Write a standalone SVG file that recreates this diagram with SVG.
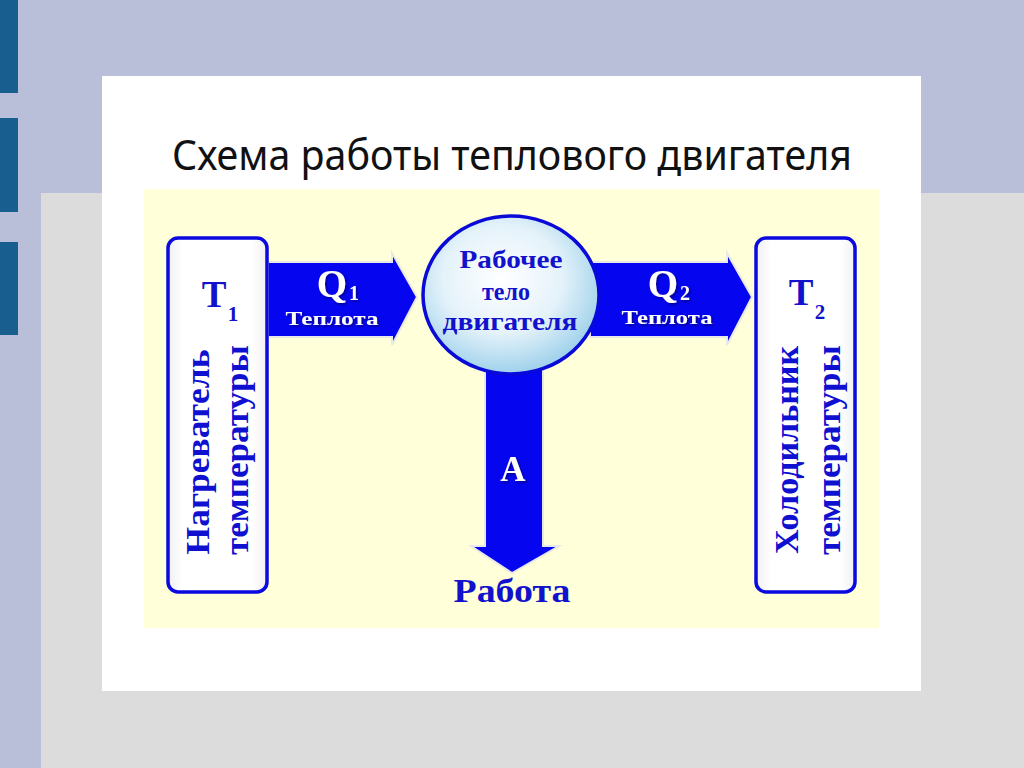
<svg xmlns="http://www.w3.org/2000/svg" width="1024" height="768" viewBox="0 0 1024 768">
<defs>
<radialGradient id="ball" cx="0.45" cy="0.4" r="0.62">
<stop offset="0" stop-color="#FFFFFF"/>
<stop offset="0.55" stop-color="#E4F2FA"/>
<stop offset="1" stop-color="#9ACFEA"/>
</radialGradient>
<linearGradient id="boxfill" x1="0" y1="0" x2="1" y2="0">
<stop offset="0" stop-color="#F0F0F4"/>
<stop offset="0.15" stop-color="#FFFFFF"/>
<stop offset="0.85" stop-color="#FFFFFF"/>
<stop offset="1" stop-color="#F0F0F4"/>
</linearGradient>
<filter id="sh" x="-10%" y="-10%" width="130%" height="130%">
<feDropShadow dx="1.5" dy="1.5" stdDeviation="0.8" flood-color="#000033" flood-opacity="0.55"/>
</filter>
</defs>
<style>
.box{fill:url(#boxfill);stroke:#0A0AE0;stroke-width:3.5}
.arrow{fill:#0505F0;stroke:#E8E8E8;stroke-width:2;stroke-linejoin:miter}
.wt{font-family:"Liberation Serif","Times New Roman",serif;font-weight:bold;fill:#FFFFFF;filter:url(#sh)}
.bt{font-family:"Liberation Serif","Times New Roman",serif;font-weight:bold;fill:#1212CC}
.vt{font-family:"Liberation Serif","Times New Roman",serif;font-weight:bold;fill:#1010D0;font-size:34px}
</style>
<rect x="0" y="0" width="1024" height="768" fill="#B9BED9"/>
<rect x="41" y="193" width="983" height="575" fill="#DCDCDC"/>
<rect x="0" y="0" width="18" height="93" fill="#185E8E"/>
<rect x="0" y="118" width="18" height="94" fill="#185E8E"/>
<rect x="0" y="242" width="18" height="93" fill="#185E8E"/>
<rect x="102" y="76" width="819" height="615" fill="#FFFFFF"/>
<text x="512" y="170" font-family="'Noto Sans','Open Sans',sans-serif" font-size="41" fill="#111111" text-anchor="middle" textLength="680" lengthAdjust="spacingAndGlyphs">Схема работы теплового двигателя</text>
<rect x="144" y="189" width="735" height="439" fill="#FFFFD9"/>

<g id="connectors">
<path class="arrow" d="M268,262 H392 V253 L417,297 L392,345 V337 H268 Z"/>
<path class="arrow" d="M590,262 H727 V253 L752,297 L727,345 V337 H590 Z"/>
<path class="arrow" d="M485,360 H543 V546 H559 L512,573 L471,546 H485 Z"/>
<text class="wt" x="332" y="297" font-size="39" text-anchor="middle">Q</text>
<text class="wt" x="354" y="300" font-size="20" text-anchor="middle">1</text>
<text class="wt" x="332" y="325" font-size="19" text-anchor="middle" textLength="93" lengthAdjust="spacingAndGlyphs">Теплота</text>
<text class="wt" x="663" y="297" font-size="39" text-anchor="middle">Q</text>
<text class="wt" x="685" y="300" font-size="20" text-anchor="middle">2</text>
<text class="wt" x="667" y="324" font-size="19" text-anchor="middle" textLength="91" lengthAdjust="spacingAndGlyphs">Теплота</text>
<text class="wt" x="513" y="481" font-size="35" text-anchor="middle">A</text>
<text class="bt" x="512" y="602" font-size="33" text-anchor="middle" textLength="117" lengthAdjust="spacingAndGlyphs">Работа</text>
</g>

<g id="node-body">
<ellipse cx="511" cy="295" rx="88" ry="79" fill="url(#ball)" stroke="#0A0AD8" stroke-width="3.5"/>
<text class="bt" x="511" y="268" font-size="25" text-anchor="middle" textLength="103" lengthAdjust="spacingAndGlyphs">Рабочее</text>
<text class="bt" x="506" y="300" font-size="25" text-anchor="middle" textLength="48" lengthAdjust="spacingAndGlyphs">тело</text>
<text class="bt" x="510" y="330" font-size="25" text-anchor="middle" textLength="135" lengthAdjust="spacingAndGlyphs">двигателя</text>
</g>

<g id="node-heater">
<rect class="box" x="168" y="238" width="99" height="354" rx="10"/>
<text class="bt" x="214" y="307" font-size="37" text-anchor="middle">T</text>
<text class="bt" x="233" y="321" font-size="21" text-anchor="middle">1</text>
<text class="vt" transform="translate(197,452) rotate(-90)" text-anchor="middle" dominant-baseline="central" textLength="205" lengthAdjust="spacingAndGlyphs">Нагреватель</text>
<text class="vt" transform="translate(236,450) rotate(-90)" text-anchor="middle" dominant-baseline="central" textLength="210" lengthAdjust="spacingAndGlyphs">температуры</text>
</g>

<g id="node-cooler">
<rect class="box" x="756" y="238" width="99" height="354" rx="10"/>
<text class="bt" x="801" y="305" font-size="37" text-anchor="middle">T</text>
<text class="bt" x="820" y="319" font-size="21" text-anchor="middle">2</text>
<text class="vt" transform="translate(786,450) rotate(-90)" text-anchor="middle" dominant-baseline="central" textLength="208" lengthAdjust="spacingAndGlyphs">Холодильник</text>
<text class="vt" transform="translate(828,450) rotate(-90)" text-anchor="middle" dominant-baseline="central" textLength="210" lengthAdjust="spacingAndGlyphs">температуры</text>
</g>
</svg>
